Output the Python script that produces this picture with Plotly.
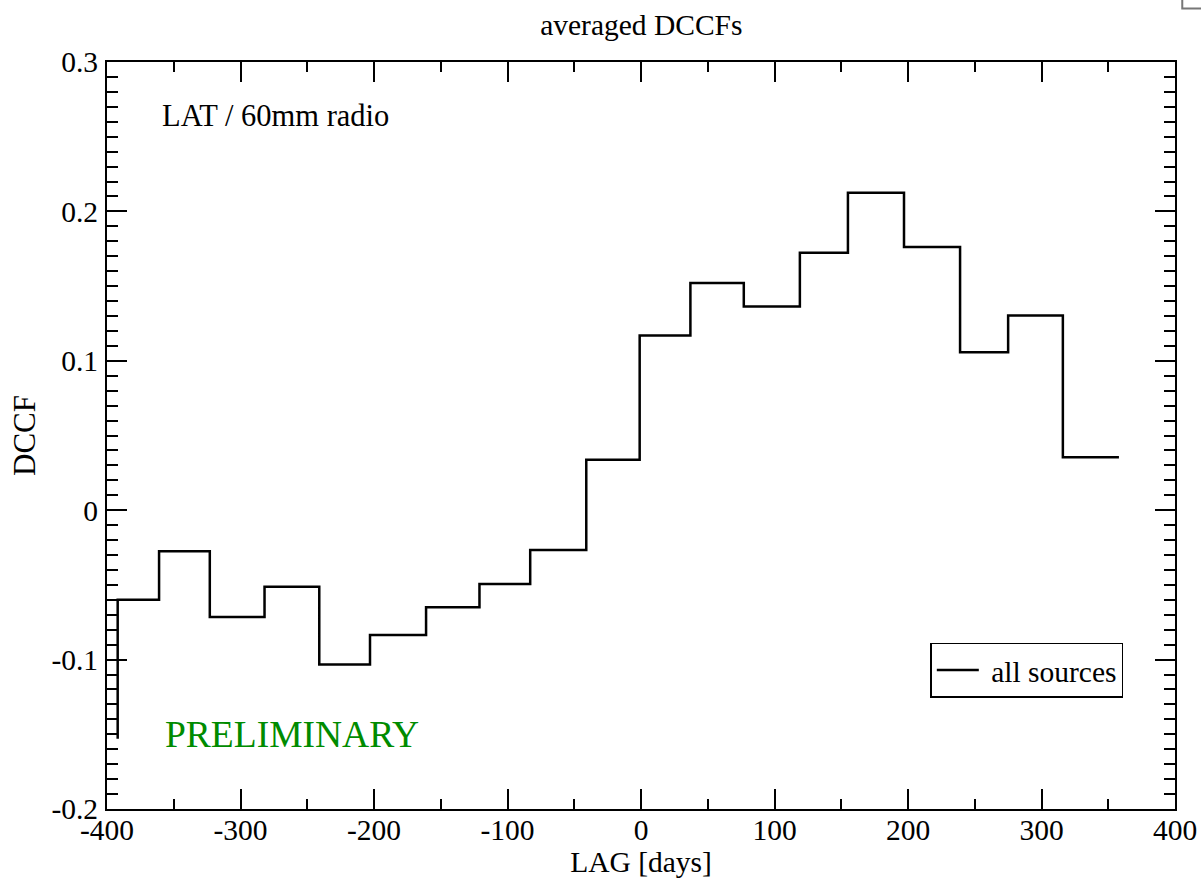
import plotly.graph_objects as go

# step data (right-stair points: each y holds from previous x up to this x)
lag_days = [-392, -361, -323, -282, -241, -203, -161, -121, -83, -41,
            -1, 37, 77, 119, 155, 197, 239, 275, 316, 358]
dccf = [-0.153, -0.060, -0.0275, -0.0715, -0.0512, -0.1032, -0.0835, -0.065, -0.0494, -0.0266,
        0.0337, 0.117, 0.152, 0.1364, 0.1723, 0.2125, 0.1762, 0.1058, 0.1303, 0.0355]

x_tickvals = [-400, -300, -200, -100, 0, 100, 200, 300, 400]
x_ticktext = ["-400", "-300", "-200", "-100", "0", "100", "200", "300", "400"]
y_tickvals = [-0.2, -0.1, 0, 0.1, 0.2, 0.3]
y_ticktext = ["-0.2", "-0.1", "0", "0.1", "0.2", "0.3"]

FONT = "Liberation Serif, Times New Roman, serif"
FS = 29.5

fig = go.Figure()
fig.add_trace(go.Scatter(
    x=lag_days, y=dccf, mode="lines", line_shape="vh",
    line=dict(color="black", width=2.5), name="\u00a0all sources",
))

axis_common = dict(
    showgrid=False, zeroline=False, showline=True, linecolor="black", linewidth=2,
    mirror="allticks", ticks="inside", tickcolor="black", tickwidth=1.8, ticklen=20,
    tickfont=dict(family=FONT, size=FS, color="black"), automargin=False,
)

fig.update_layout(
    width=1201, height=878,
    margin=dict(l=107, r=26, t=62, b=69),
    paper_bgcolor="white", plot_bgcolor="white",
    font=dict(family=FONT, size=FS, color="black"),
    title=dict(text="averaged DCCFs", x=0.534, xanchor="center", y=0.972, yanchor="middle",
               yref="container", font=dict(family=FONT, size=FS, color="black")),
    xaxis=dict(range=[-400, 400], tickvals=x_tickvals, ticktext=x_ticktext,
               minor=dict(ticks="inside", ticklen=10, tickwidth=1.8, tickcolor="black", dtick=50, tick0=0),
               ticklabelstandoff=-6,
               title=dict(text="LAG [days]", standoff=0, font=dict(family=FONT, size=FS)),
               **axis_common),
    yaxis=dict(range=[-0.2, 0.3], tickvals=y_tickvals, ticktext=y_ticktext,
               minor=dict(ticks="inside", ticklen=11, tickwidth=1.8, tickcolor="black", dtick=0.01, tick0=0),
               ticklabelstandoff=1,
               title=dict(text="DCCF", standoff=7, font=dict(family=FONT, size=31)),
               **axis_common),
    showlegend=True,
    legend=dict(x=0.9516, xanchor="right", y=0.2224, yanchor="top",
                bordercolor="black", borderwidth=1.5, bgcolor="white", itemwidth=42,
                font=dict(family=FONT, size=FS, color="black")),
    annotations=[
        dict(text="LAT / 60mm radio", xref="paper", yref="paper", x=0.05, y=0.928,
             xanchor="left", yanchor="middle", showarrow=False,
             font=dict(family=FONT, size=30.5, color="black")),
        dict(text="PRELIMINARY", xref="paper", yref="paper", x=0.052, y=0.0995,
             xanchor="left", yanchor="middle", showarrow=False,
             font=dict(family=FONT, size=37.5, color="rgb(0,139,0)")),
    ],
    shapes=[
        dict(type="path", xref="paper", yref="paper",
             path="M 1.0068 1.0836 L 1.0068 1.0716 L 1.03 1.0716",
             line=dict(color="#777777", width=2)),
    ],
)

fig.write_html("out.html")
